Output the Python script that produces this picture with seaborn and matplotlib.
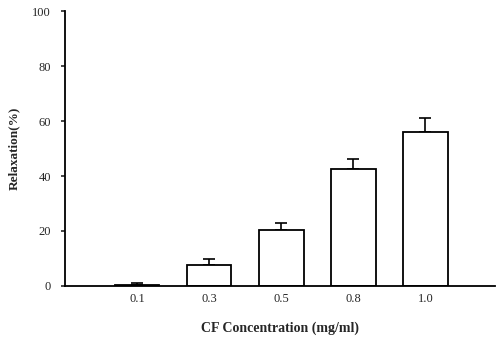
import matplotlib
matplotlib.use("Agg")
import matplotlib.pyplot as plt
import seaborn as sns
import pandas as pd

categories = ["0.1", "0.3", "0.5", "0.8", "1.0"]
relaxation = [0.5, 7.6, 20.4, 42.4, 56.0]
errors = [0.5, 2.1, 2.4, 3.8, 5.0]
yticks = [0, 20, 40, 60, 80, 100]

sns.set_theme(style="ticks")
plt.rcParams['font.family'] = ['Liberation Serif', 'DejaVu Serif']

df = pd.DataFrame({"conc": categories, "relax": relaxation})

fig = plt.figure(figsize=(4.98, 3.38), dpi=100)
ax = fig.add_axes([0.1305, 0.154, 0.864, 0.813])

sns.barplot(data=df, x="conc", y="relax", order=categories, ax=ax,
            color="white", edgecolor="black", linewidth=1.3, width=0.62,
            errorbar=None, zorder=2)
ax.errorbar(range(len(categories)), relaxation, yerr=[[0]*len(errors), errors],
            fmt="none", ecolor="black", elinewidth=1.2, capsize=4, capthick=1.2, zorder=1)

ax.set_xlim(-1, 4.97)
ax.set_ylim(0, 100)
ax.set_yticks(yticks)
ax.set_yticklabels([str(v) for v in yticks], fontsize=9)
ax.set_xticklabels(categories, fontsize=9)
ax.tick_params(axis="x", length=0, pad=5)
ax.tick_params(axis="y", length=3, width=1.2, pad=7)
for s in ["top", "right"]:
    ax.spines[s].set_visible(False)
for s in ["left", "bottom"]:
    ax.spines[s].set_linewidth(1.3)
    ax.spines[s].set_color("black")

ax.set_xlabel("CF Concentration (mg/ml)", fontsize=10, fontweight="bold", labelpad=12)
ax.set_ylabel("Relaxation(%)", fontsize=9.5, fontweight="bold", labelpad=9)

fig.savefig("out.png", dpi=100, facecolor="white")
